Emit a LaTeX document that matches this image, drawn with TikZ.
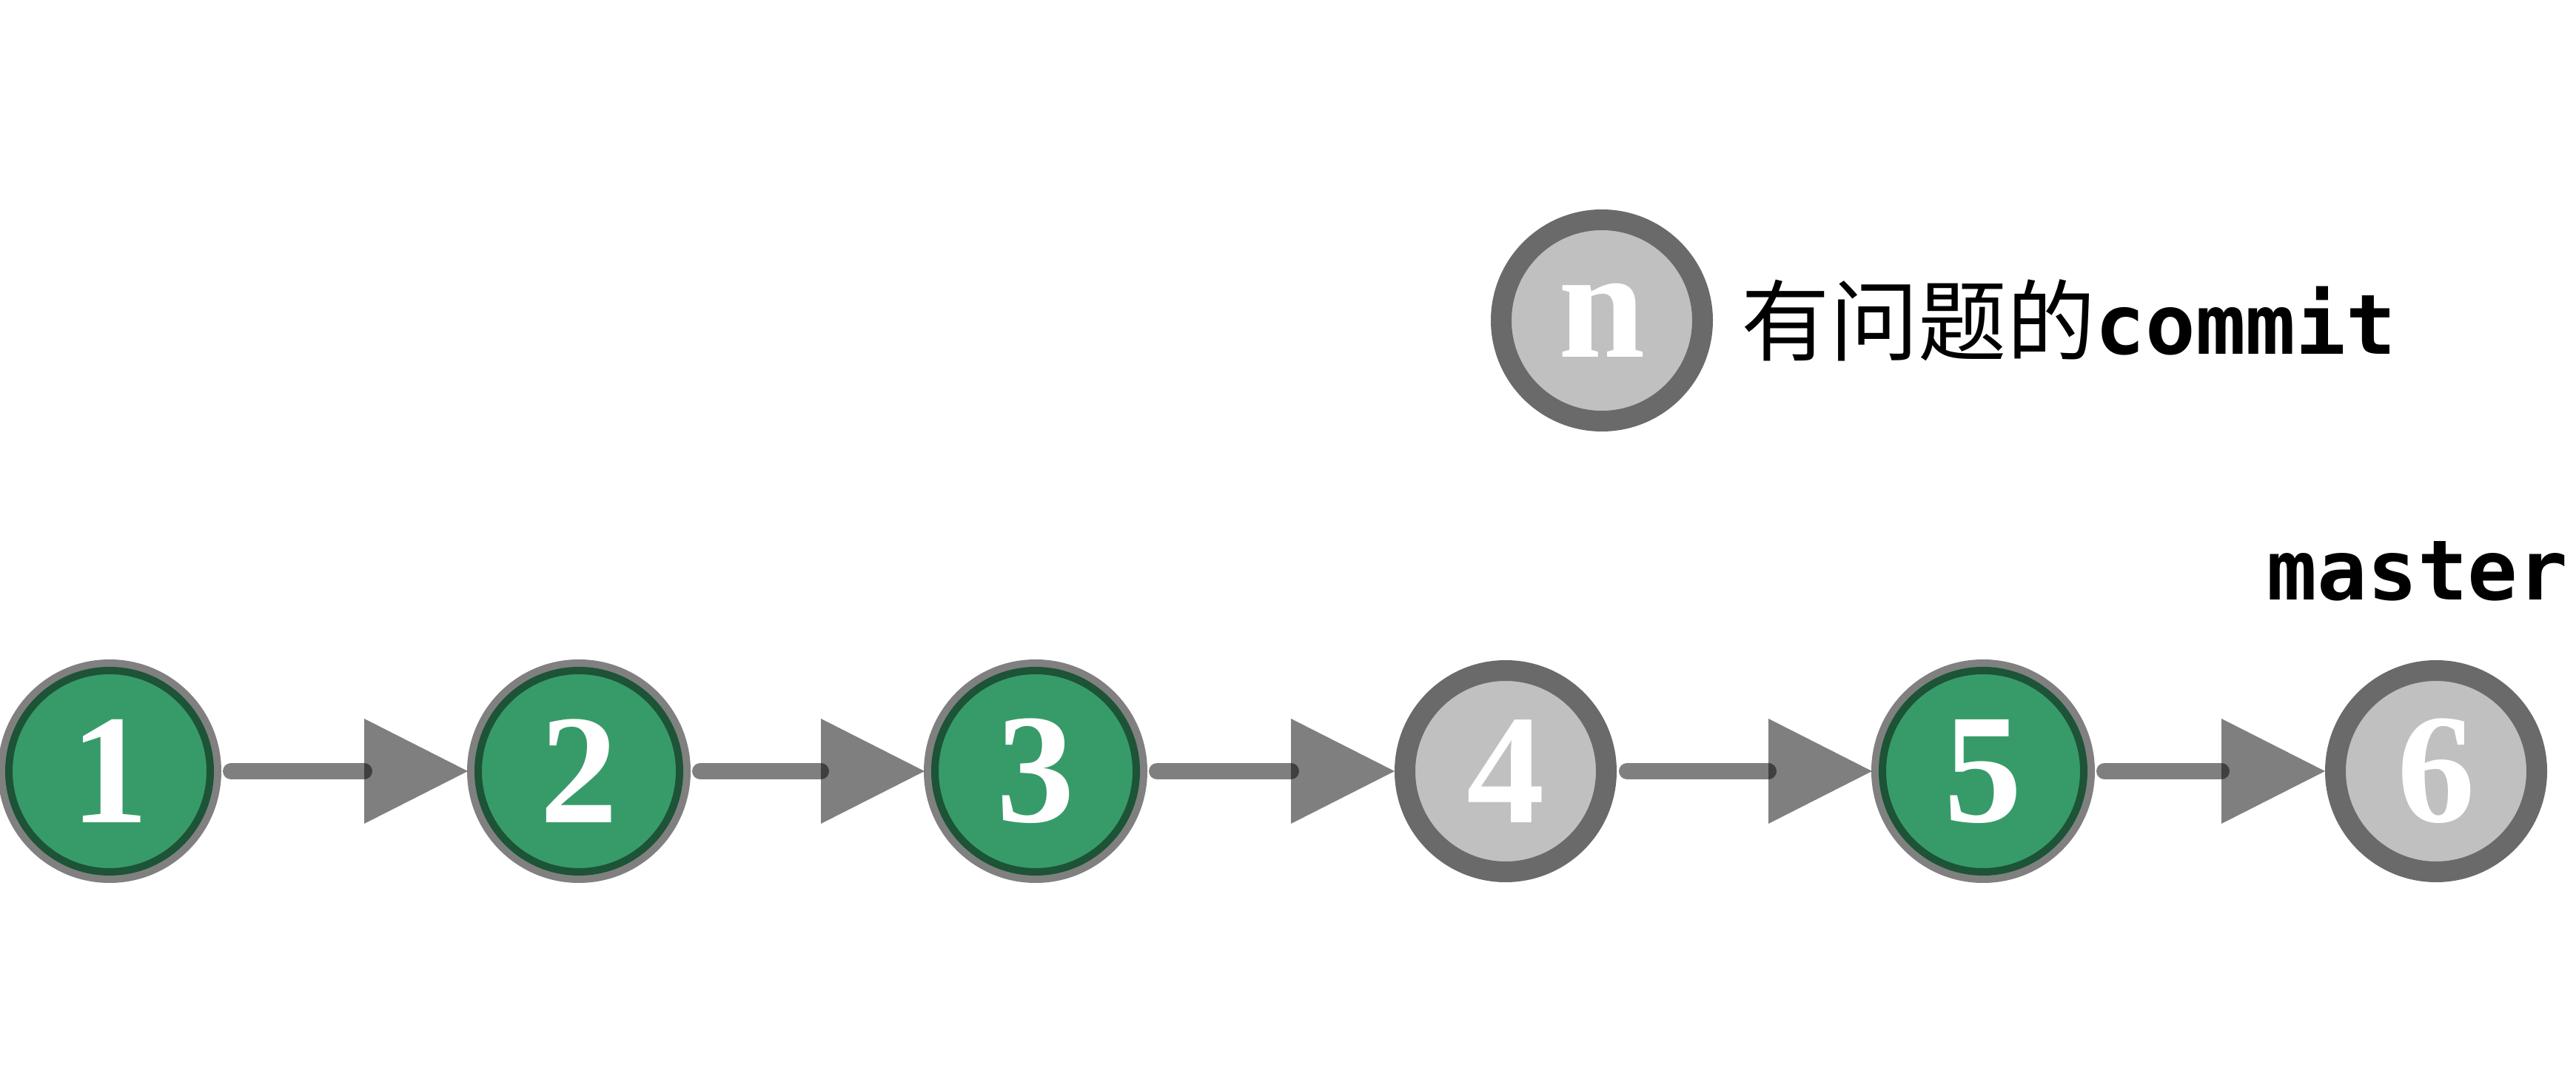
\documentclass[tikz,border=0pt]{standalone}
\usepackage{fontspec}
\setmainfont{Liberation Serif}
\setmonofont{DejaVu Sans Mono}
\newfontfamily\cjk{Noto Sans CJK SC}
\usetikzlibrary{arrows.meta,positioning}
\definecolor{okfill}{HTML}{379B69}
\definecolor{okring}{HTML}{1D5336}
\definecolor{badfill}{HTML}{C0C0C0}
\definecolor{ringgray}{HTML}{6A6A6A}
\begin{document}
\begin{tikzpicture}[
  every node/.style={inner sep=0pt},
  commit/.style={circle,minimum size=2.72cm,outer sep=0.14cm,text=white,
    font=\fontsize{60}{60}\selectfont\bfseries},
  good/.style={commit,fill=okfill,draw=okring,line width=0.1cm,
    preaction={draw=ringgray!85,line width=0.3cm}},
  bad/.style={commit,fill=badfill,draw=ringgray,line width=0.28cm},
  link/.style={line width=0.22cm,line cap=round,opacity=.5,shorten <=0.14cm,
    -{Triangle[length=1.4cm,width=1.42cm,line width=0pt]}}]
\useasboundingbox(0,0)rectangle(34.8,14.66);
\foreach \n/\x/\s in{1/1.48/good,2/7.82/good,3/13.99/good,4/20.34/bad,5/26.79/good,6/32.91/bad}
\node[\s](c\n)at(\x,4.24){\n};
\foreach \a/\b in{1/2,2/3,3/4,4/5,5/6}
\draw[link](c\a)--(c\b);
% legend
\node[bad](leg)at(21.64,10.33){n};
\node[right=0.38cm of leg,font=\fontsize{34}{34}\selectfont](legtext)
{{\cjk 有问题的}{\ttfamily\bfseries\fontsize{32}{32}\selectfont commit}};
\node[anchor=base,font=\ttfamily\bfseries\fontsize{32}{32}\selectfont](master)
at(32.66,6.55){master};
\end{tikzpicture}
\end{document}
